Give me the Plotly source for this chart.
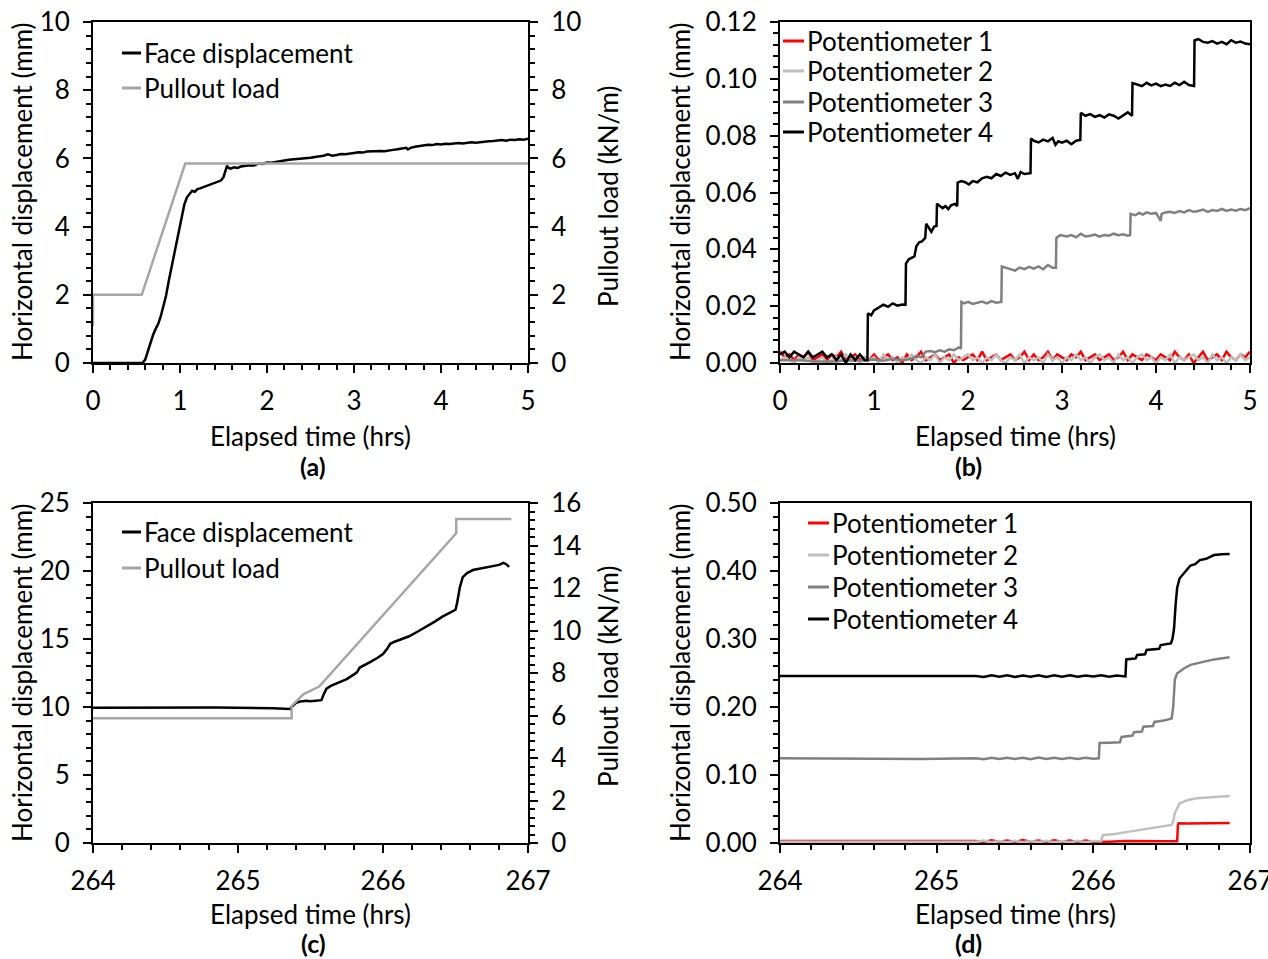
import plotly.graph_objects as go

# ---------------- DATA ----------------
# (a) Face displacement (mm) vs elapsed time (hrs)
ta_face = [0.00, 0.57, 0.60, 0.63, 0.66, 0.69, 0.72, 0.75, 0.78, 0.81, 0.84, 0.87, 0.90, 0.93, 0.96, 0.99,
           1.02, 1.05, 1.08, 1.11, 1.14, 1.17, 1.20, 1.23, 1.26, 1.29, 1.32, 1.35, 1.38, 1.41, 1.44, 1.47,
           1.50, 1.52, 1.54, 1.56, 1.58, 1.62, 1.66, 1.70, 1.75, 1.80, 1.85, 1.90, 1.95, 2.00,
           2.05, 2.10, 2.15, 2.20, 2.25, 2.30, 2.35, 2.40, 2.45, 2.50,
           2.55, 2.60, 2.65, 2.70, 2.75, 2.80, 2.85, 2.90, 2.95, 3.00,
           3.05, 3.10, 3.15, 3.20, 3.25, 3.30, 3.35, 3.40, 3.45, 3.50,
           3.55, 3.60, 3.62, 3.65, 3.70, 3.75, 3.80, 3.85, 3.90, 3.95, 4.00,
           4.05, 4.10, 4.15, 4.20, 4.25, 4.30, 4.35, 4.40, 4.45, 4.50,
           4.55, 4.60, 4.65, 4.70, 4.75, 4.80, 4.85, 4.90, 4.95, 5.00]
va_face = [0.00, 0.00, 0.10, 0.35, 0.58, 0.82, 1.00, 1.15, 1.38, 1.68, 1.98, 2.40, 2.78, 3.15, 3.55, 3.92,
           4.30, 4.65, 4.86, 4.96, 5.05, 5.02, 5.10, 5.12, 5.15, 5.18, 5.20, 5.22, 5.25, 5.28, 5.33, 5.35,
           5.45, 5.62, 5.78, 5.72, 5.70, 5.74, 5.72, 5.76, 5.78, 5.80, 5.79, 5.85, 5.84, 5.88,
           5.87, 5.90, 5.92, 5.94, 5.96, 5.97, 5.98, 6.00, 5.99, 6.02,
           6.04, 6.05, 6.08, 6.12, 6.08, 6.10, 6.13, 6.12, 6.15, 6.16,
           6.18, 6.17, 6.20, 6.21, 6.22, 6.22, 6.21, 6.24, 6.25, 6.27,
           6.28, 6.31, 6.26, 6.31, 6.34, 6.36, 6.38, 6.40, 6.39, 6.42, 6.41,
           6.43, 6.42, 6.44, 6.45, 6.44, 6.46, 6.47, 6.46, 6.48, 6.49,
           6.50, 6.51, 6.52, 6.54, 6.52, 6.55, 6.54, 6.56, 6.55, 6.58]
# (a) Pullout load (kN/m)
ta_load = [0.00, 0.00, 0.56, 1.06, 5.00]
va_load = [1.08, 2.00, 2.00, 5.85, 5.85]

# (b) Potentiometers 1 & 2 (mm), sampled every 0.05 hr
tb_grid = [0.00, 0.05, 0.10, 0.15, 0.20, 0.25, 0.30, 0.35, 0.40, 0.45,
           0.50, 0.55, 0.60, 0.65, 0.70, 0.75, 0.80, 0.85, 0.90, 0.95,
           1.00, 1.05, 1.10, 1.15, 1.20, 1.25, 1.30, 1.35, 1.40, 1.45,
           1.50, 1.55, 1.60, 1.65, 1.70, 1.75, 1.80, 1.85, 1.90, 1.95,
           2.00, 2.05, 2.10, 2.15, 2.20, 2.25, 2.30, 2.35, 2.40, 2.45,
           2.50, 2.55, 2.60, 2.65, 2.70, 2.75, 2.80, 2.85, 2.90, 2.95,
           3.00, 3.05, 3.10, 3.15, 3.20, 3.25, 3.30, 3.35, 3.40, 3.45,
           3.50, 3.55, 3.60, 3.65, 3.70, 3.75, 3.80, 3.85, 3.90, 3.95,
           4.00, 4.05, 4.10, 4.15, 4.20, 4.25, 4.30, 4.35, 4.40, 4.45,
           4.50, 4.55, 4.60, 4.65, 4.70, 4.75, 4.80, 4.85, 4.90, 4.95,
           5.00]
p1_b = [0.004, 0.002, 0.003, 0.001, 0.003, 0.002, 0.004, 0.001, 0.002, 0.003,
        0.001, 0.003, 0.002, 0.004, 0.001, 0.002, 0.003, 0.001, 0.002, 0.001,
        0.003, 0.001, 0.002, 0.003, 0.001, 0.002, 0.000, 0.003, 0.001, 0.002,
        0.004, 0.001, 0.002, 0.003, 0.001, 0.002, 0.003, 0.000, 0.002, 0.001,
        0.002, 0.003, 0.001, 0.004, 0.001, 0.002, 0.003, 0.001, 0.002, 0.003,
        0.001, 0.002, 0.004, 0.001, 0.003, 0.001, 0.002, 0.004, 0.001, 0.003,
        0.002, 0.001, 0.003, 0.002, 0.004, 0.001, 0.002, 0.003, 0.001, 0.002,
        0.003, 0.001, 0.002, 0.004, 0.001, 0.003, 0.002, 0.001, 0.003, 0.002,
        0.001, 0.003, 0.002, 0.001, 0.004, 0.002, 0.001, 0.003, 0.000, 0.002,
        0.004, 0.001, 0.002, 0.003, 0.001, 0.004, 0.002, 0.001, 0.003, 0.002,
        0.004]
p2_b = [0.001, 0.002, 0.001, 0.000, 0.002, 0.001, 0.002, 0.000, 0.001, 0.002,
        0.000, 0.001, 0.002, 0.001, 0.003, 0.001, 0.002, 0.000, 0.002, 0.001,
        0.002, 0.000, 0.003, 0.001, 0.002, 0.000, 0.002, 0.001, 0.003, 0.001,
        0.000, 0.002, 0.001, 0.003, 0.000, 0.002, 0.001, 0.003, 0.001, 0.002,
        0.003, 0.001, 0.002, 0.000, 0.002, 0.001, 0.003, 0.001, 0.000, 0.002,
        0.001, 0.003, 0.000, 0.002, 0.001, 0.002, 0.000, 0.003, 0.001, 0.002,
        0.000, 0.002, 0.001, 0.003, 0.001, 0.002, 0.000, 0.002, 0.003, 0.001,
        0.002, 0.000, 0.003, 0.001, 0.002, 0.000, 0.002, 0.003, 0.001, 0.002,
        0.000, 0.002, 0.001, 0.003, 0.000, 0.002, 0.001, 0.002, 0.003, 0.001,
        0.002, 0.000, 0.003, 0.001, 0.002, 0.000, 0.002, 0.001, 0.003, 0.001,
        0.002]
# (b) Potentiometer 3
t3_b = [0.00, 0.20, 0.40, 0.60, 0.70, 0.80, 0.90, 1.00, 1.10, 1.20, 1.30, 1.40, 1.45, 1.50, 1.55, 1.60,
        1.65, 1.70, 1.75, 1.80, 1.85, 1.90, 1.925,
        1.93, 1.96, 2.00, 2.05, 2.10, 2.15, 2.20, 2.25, 2.30, 2.355,
        2.36, 2.40, 2.45, 2.50, 2.55, 2.60, 2.65, 2.70, 2.75, 2.80, 2.85, 2.90, 2.935,
        2.94, 2.98, 3.05, 3.10, 3.15, 3.20, 3.25, 3.30, 3.35, 3.40, 3.45, 3.50, 3.55, 3.60, 3.65, 3.70, 3.725,
        3.73, 3.78, 3.82, 3.86, 3.90, 3.95, 4.00, 4.05, 4.06, 4.10, 4.15, 4.20, 4.25, 4.30, 4.35, 4.40,
        4.45, 4.50, 4.55, 4.60, 4.65, 4.70, 4.75, 4.80, 4.85, 4.90, 4.95, 5.00]
p3_b = [0.001, 0.001, 0.0005, 0.0005, 0.001, 0.0008, 0.001, 0.0012, 0.0008, 0.0015, 0.001, 0.0015, 0.0025,
        0.002, 0.004, 0.0042, 0.0038, 0.0045, 0.004, 0.0048, 0.0045, 0.0055, 0.005,
        0.0215, 0.0210, 0.0215, 0.0208, 0.0212, 0.0216, 0.0210, 0.0218, 0.0212, 0.0215,
        0.0340, 0.0335, 0.0330, 0.0325, 0.0336, 0.0330, 0.0338, 0.0332, 0.0340, 0.0330, 0.0345, 0.0335, 0.0335,
        0.0440, 0.0450, 0.0445, 0.0450, 0.0442, 0.0455, 0.0445, 0.0448, 0.0452, 0.0445, 0.0450, 0.0448, 0.0455,
        0.0450, 0.0453, 0.0448, 0.0450,
        0.0525, 0.0520, 0.0528, 0.0522, 0.0530, 0.0525, 0.0528, 0.0500, 0.0525, 0.0530, 0.0532, 0.0528, 0.0535,
        0.0530, 0.0538, 0.0532, 0.0535, 0.0540, 0.0532, 0.0538, 0.0535, 0.0542, 0.0535, 0.0540, 0.0536, 0.0542,
        0.0538, 0.0545]
# (b) Potentiometer 4
t4_b = [0.00, 0.05, 0.10, 0.15, 0.20, 0.25, 0.30, 0.35, 0.40, 0.45, 0.50, 0.55, 0.60, 0.65, 0.70, 0.75,
        0.80, 0.85, 0.90, 0.93,
        0.935, 0.97, 1.00, 1.05, 1.10, 1.15, 1.20, 1.25, 1.30, 1.335,
        1.34, 1.37, 1.40, 1.43, 1.45, 1.48, 1.51, 1.545, 1.555, 1.58, 1.61, 1.64, 1.665, 1.67, 1.70, 1.73,
        1.76, 1.79, 1.82, 1.86, 1.885,
        1.89, 1.93, 1.97, 2.01, 2.05, 2.10, 2.15, 2.20, 2.25, 2.30, 2.35, 2.40, 2.45, 2.50, 2.53, 2.56, 2.60, 2.665,
        2.67, 2.70, 2.75, 2.80, 2.85, 2.90, 2.93, 2.96, 3.00, 3.05, 3.10, 3.15, 3.195,
        3.20, 3.25, 3.30, 3.35, 3.40, 3.45, 3.50, 3.55, 3.60, 3.65, 3.70, 3.745,
        3.75, 3.80, 3.85, 3.90, 3.95, 4.00, 4.05, 4.10, 4.15, 4.20, 4.25, 4.30, 4.35, 4.405,
        4.41, 4.45, 4.50, 4.55, 4.60, 4.65, 4.70, 4.75, 4.80, 4.85, 4.90, 4.95, 5.00]
p4_b = [0.003, 0.004, 0.002, 0.004, 0.003, 0.002, 0.004, 0.002, 0.003, 0.004, 0.002, 0.003, 0.001, 0.003,
        0.000, 0.003, 0.001, 0.003, 0.001, 0.001,
        0.0175, 0.0168, 0.0185, 0.0195, 0.0205, 0.0198, 0.0210, 0.0202, 0.0206, 0.0205,
        0.0350, 0.0365, 0.0370, 0.0375, 0.0410, 0.0425, 0.0428, 0.0440, 0.0490, 0.0475, 0.0462, 0.0480, 0.0482,
        0.0560, 0.0552, 0.0545, 0.0552, 0.0542, 0.0555, 0.0560, 0.0552,
        0.0635, 0.0640, 0.0636, 0.0628, 0.0640, 0.0636, 0.0650, 0.0655, 0.0650, 0.0665, 0.0658, 0.0670, 0.0662,
        0.0668, 0.0648, 0.0672, 0.0665, 0.0668,
        0.0790, 0.0782, 0.0776, 0.0786, 0.0780, 0.0792, 0.0768, 0.0780, 0.0775, 0.0782, 0.0770, 0.0782, 0.0785,
        0.0880, 0.0870, 0.0876, 0.0866, 0.0872, 0.0864, 0.0875, 0.0870, 0.0860, 0.0870, 0.0882, 0.0870,
        0.0985, 0.0980, 0.0974, 0.0986, 0.0977, 0.0983, 0.0974, 0.0980, 0.0975, 0.0986, 0.0978, 0.0990, 0.0978,
        0.0975,
        0.1135, 0.1140, 0.1130, 0.1127, 0.1133, 0.1124, 0.1130, 0.1122, 0.1136, 0.1127, 0.1131, 0.1124, 0.1122]

# (c) Face displacement (mm) and pullout load (kN/m)
tc_face = [264.00, 264.50, 264.85, 265.24, 265.30, 265.36, 265.37, 265.40, 265.43, 265.47, 265.50, 265.55,
           265.575, 265.59, 265.61, 265.64, 265.66, 265.70, 265.75, 265.80, 265.82, 265.84, 265.88, 265.92,
           265.96, 266.00, 266.03, 266.05, 266.08, 266.12, 266.18, 266.24, 266.30, 266.36, 266.41, 266.46,
           266.50, 266.51, 266.52, 266.53, 266.55, 266.58, 266.62, 266.66, 266.70, 266.76, 266.80, 266.83,
           266.85, 266.87]
vc_face = [9.95, 9.96, 9.97, 9.90, 9.85, 9.85, 10.00, 10.30, 10.40, 10.45, 10.42, 10.50,
           10.50, 10.90, 11.35, 11.55, 11.65, 11.85, 12.05, 12.40, 12.55, 12.90, 13.10, 13.35,
           13.60, 13.90, 14.30, 14.65, 14.80, 14.95, 15.20, 15.55, 15.90, 16.30, 16.64, 16.95,
           17.15, 17.60, 18.30, 18.80, 19.55, 19.85, 20.07, 20.15, 20.20, 20.32, 20.45, 20.60,
           20.50, 20.30]
tc_load = [264.00, 265.37, 265.37, 265.45, 265.56, 266.505, 266.505, 266.885]
vc_load = [5.87, 5.87, 6.45, 7.00, 7.36, 14.57, 15.25, 15.25]

# (d) Potentiometers 1-4 (mm)
t1_d = [264.00, 265.25, 265.30, 265.35, 265.40, 265.45, 265.50, 265.55, 265.60, 265.65, 265.70, 265.75,
        265.80, 265.85, 265.90, 265.95, 266.00, 266.05, 266.10, 266.20, 266.30, 266.40, 266.50, 266.535,
        266.54, 266.545, 266.60, 266.70, 266.80, 266.87]
p1_d = [0.0030, 0.0030, 0.0015, 0.0040, 0.0020, 0.0035, 0.0015, 0.0042, 0.0018, 0.0036, 0.0015, 0.0040,
        0.0020, 0.0038, 0.0016, 0.0035, 0.0020, 0.0025, 0.0020, 0.0028, 0.0022, 0.0027, 0.0024, 0.0025,
        0.0270, 0.0290, 0.0285, 0.0292, 0.0290, 0.0295]
t2_d = [264.00, 264.80, 265.25, 265.30, 265.35, 265.40, 265.45, 265.50, 265.55, 265.60, 265.65, 265.70,
        265.75, 265.80, 265.85, 265.90, 265.95, 266.00, 266.05, 266.06, 266.15, 266.23, 266.30, 266.40,
        266.50, 266.51, 266.52, 266.55, 266.60, 266.66, 266.75, 266.87]
p2_d = [0.0020, 0.0015, 0.0020, 0.0035, 0.0010, 0.0030, 0.0012, 0.0032, 0.0010, 0.0030, 0.0014, 0.0033,
        0.0011, 0.0030, 0.0012, 0.0034, 0.0010, 0.0031, 0.0025, 0.0115, 0.0135, 0.0167, 0.0190, 0.0225,
        0.0265, 0.0320, 0.0437, 0.0583, 0.0630, 0.0657, 0.0675, 0.0690]
t3_d = [264.00, 264.50, 264.90, 265.25, 265.30, 265.35, 265.40, 265.45, 265.50, 265.55, 265.60, 265.65,
        265.70, 265.75, 265.80, 265.85, 265.90, 265.95, 266.00, 266.035, 266.04, 266.10, 266.17, 266.18,
        266.25, 266.26, 266.31, 266.32, 266.38, 266.39, 266.45, 266.50, 266.51, 266.52, 266.535, 266.55,
        266.58, 266.62, 266.68, 266.77, 266.87]
p3_d = [0.1245, 0.1238, 0.1235, 0.1245, 0.1232, 0.1255, 0.1234, 0.1254, 0.1236, 0.1252, 0.1233, 0.1256,
        0.1235, 0.1253, 0.1234, 0.1255, 0.1236, 0.1252, 0.1240, 0.1245, 0.1470, 0.1475, 0.1480, 0.1560,
        0.1580, 0.1630, 0.1640, 0.1710, 0.1720, 0.1780, 0.1800, 0.1830, 0.2000, 0.2400, 0.2495, 0.2520,
        0.2570, 0.2620, 0.2650, 0.2700, 0.2730]
t4_d = [264.00, 264.60, 265.25, 265.30, 265.35, 265.40, 265.45, 265.50, 265.55, 265.60, 265.65, 265.70,
        265.75, 265.80, 265.85, 265.90, 265.95, 266.00, 266.05, 266.10, 266.15, 266.205, 266.21, 266.25,
        266.27, 266.28, 266.33, 266.34, 266.38, 266.42, 266.43, 266.47, 266.495, 266.505, 266.515, 266.525,
        266.535, 266.55, 266.585, 266.62, 266.65, 266.68, 266.72, 266.77, 266.82, 266.87]
p4_d = [0.2455, 0.2457, 0.2455, 0.2440, 0.2468, 0.2444, 0.2466, 0.2442, 0.2464, 0.2446, 0.2467, 0.2443,
        0.2465, 0.2445, 0.2468, 0.2444, 0.2463, 0.2447, 0.2466, 0.2445, 0.2462, 0.2450, 0.2700, 0.2710,
        0.2715, 0.2765, 0.2775, 0.2840, 0.2850, 0.2855, 0.2910, 0.2920, 0.2935, 0.3000, 0.3150, 0.3500,
        0.3750, 0.3890, 0.3990, 0.4080, 0.4100, 0.4160, 0.4180, 0.4235, 0.4245, 0.4250]

for a, b in [(ta_face, va_face), (ta_load, va_load), (tb_grid, p1_b), (tb_grid, p2_b), (t3_b, p3_b),
             (t4_b, p4_b), (tc_face, vc_face), (tc_load, vc_load), (t1_d, p1_d), (t2_d, p2_d),
             (t3_d, p3_d), (t4_d, p4_d)]:
    assert len(a) == len(b), (len(a), len(b))

# ---------------- STYLE ----------------
W, H = 1268, 959
FONT = "Lato"
FS = 26
BLACK = "#000000"
LOADGRAY = "#A6A6A6"
RED = "#FF0000"
LIGHT = "#BFBFBF"
MID = "#808080"
LW = 2.5


def px(x):
    return x / W


def py(y):
    return 1 - y / H


# plot areas in pixels (left, right, top, bottom)
A = (93, 528, 22, 363)
B = (780, 1250, 22, 363)
C = (93, 528, 503, 843)
D = (780, 1250, 503, 843)


def xdom(r):
    return [px(r[0]), px(r[1])]


def ydom(r):
    return [py(r[3]), py(r[2])]


fig = go.Figure()


def line(x, y, color, xa, ya, name):
    fig.add_trace(go.Scatter(x=x, y=y, mode="lines", name=name, xaxis=xa, yaxis=ya,
                             line=dict(color=color, width=LW), showlegend=False))


# (a)
line(ta_load, va_load, LOADGRAY, "x", "y2", "Pullout load")
line(ta_face, va_face, BLACK, "x", "y", "Face displacement")
# (b)
line(tb_grid, p1_b, RED, "x2", "y3", "Potentiometer 1")
line(tb_grid, p2_b, LIGHT, "x2", "y3", "Potentiometer 2")
line(t3_b, p3_b, MID, "x2", "y3", "Potentiometer 3")
line(t4_b, p4_b, BLACK, "x2", "y3", "Potentiometer 4")
# (c)
line(tc_load, vc_load, LOADGRAY, "x3", "y5", "Pullout load")
line(tc_face, vc_face, BLACK, "x3", "y4", "Face displacement")
# (d)
line(t1_d, p1_d, RED, "x4", "y6", "Potentiometer 1")
line(t2_d, p2_d, LIGHT, "x4", "y6", "Potentiometer 2")
line(t3_d, p3_d, MID, "x4", "y6", "Potentiometer 3")
line(t4_d, p4_d, BLACK, "x4", "y6", "Potentiometer 4")

tickfont = dict(family=FONT, size=FS, color=BLACK)


def xaxis(dom, anchor, rng, dtick, minor):
    return dict(domain=dom, anchor=anchor, range=rng, dtick=dtick, tick0=rng[0], automargin=False,
                showgrid=False, zeroline=False, showline=True, linecolor=BLACK, linewidth=2,
                mirror=True, ticks="outside", ticklen=8, tickwidth=1.5, tickcolor=BLACK,
                minor=dict(dtick=minor, ticks="outside", ticklen=5, tickwidth=1.5, tickcolor=BLACK,
                           showgrid=False),
                tickfont=tickfont, ticklabelstandoff=6, ticklabeloverflow="allow", fixedrange=True)


def yaxis(dom, anchor, rng, dtick, minor, fmt=None, side="left", overlay=None):
    d = dict(anchor=anchor, range=rng, dtick=dtick, tick0=0, side=side, automargin=False,
             showgrid=False, zeroline=False, showline=True, linecolor=BLACK, linewidth=2,
             ticks="outside", ticklen=8, tickwidth=1.5, tickcolor=BLACK,
             minor=dict(dtick=minor, ticks="outside", ticklen=5, tickwidth=1.5, tickcolor=BLACK,
                        showgrid=False),
             tickfont=tickfont, ticklabelstandoff=8, fixedrange=True)
    if overlay:
        d["overlaying"] = overlay
    else:
        d["domain"] = dom
        d["mirror"] = True
    if fmt:
        d["tickformat"] = fmt
    return d


fig.update_layout(
    width=W, height=H,
    margin=dict(l=0, r=0, t=0, b=0, autoexpand=False),
    paper_bgcolor="white", plot_bgcolor="white",
    font=dict(family=FONT, size=FS, color=BLACK),
    showlegend=False,
    xaxis=xaxis(xdom(A), "y", [0, 5], 1, 0.2),
    yaxis=yaxis(ydom(A), "x", [0, 10], 2, 0.4),
    yaxis2=yaxis(None, "x", [0, 10], 2, 0.4, side="right", overlay="y"),
    xaxis2=xaxis(xdom(B), "y3", [0, 5], 1, 0.2),
    yaxis3=yaxis(ydom(B), "x2", [0, 0.12], 0.02, 0.004, fmt=".2f"),
    xaxis3=xaxis(xdom(C), "y4", [264, 267], 1, 0.2),
    yaxis4=yaxis(ydom(C), "x3", [0, 25], 5, 1),
    yaxis5=yaxis(None, "x3", [0, 16], 2, 0.4, side="right", overlay="y4"),
    xaxis4=xaxis(xdom(D), "y6", [264, 267], 1, 0.2),
    yaxis6=yaxis(ydom(D), "x4", [0, 0.5], 0.1, 0.02, fmt=".2f"),
)

ann = []
shapes = []


def text(x, y, s, angle=0, bold=False, xanchor="center", size=FS):
    ann.append(dict(x=px(x), y=py(y), xref="paper", yref="paper", text=("<b>%s</b>" % s if bold else s),
                    showarrow=False, textangle=angle, xanchor=xanchor, yanchor="middle",
                    font=dict(family=FONT, size=size, color=BLACK)))


# axis titles
for cx, cy in [(310, 436), (1015, 436), (310, 914), (1015, 914)]:
    text(cx, cy, "Elapsed time (hrs)")
for cx, cy in [(22, 192), (680, 192), (22, 673), (680, 673)]:
    text(cx, cy, "Horizontal displacement (mm)", angle=-90)
for cx, cy in [(608, 197), (608, 677)]:
    text(cx, cy, "Pullout load (kN/m)", angle=-90)
# panel labels
for cx, cy, s in [(313, 466, "(a)"), (968, 466, "(b)"), (313, 943, "(c)"), (968, 943, "(d)")]:
    text(cx, cy, s, bold=True, size=25)


# legends
def legend_entry(x0, x1, y, color, label):
    shapes.append(dict(type="line", xref="paper", yref="paper", x0=px(x0), x1=px(x1), y0=py(y), y1=py(y),
                       line=dict(color=color, width=3)))
    text(x1 + 1, y, label, xanchor="left")


legend_entry(122, 141, 53, BLACK, "Face displacement")
legend_entry(122, 141, 88, LOADGRAY, "Pullout load")
legend_entry(783, 804, 41, RED, "Potentiometer 1")
legend_entry(783, 804, 71, LIGHT, "Potentiometer 2")
legend_entry(783, 804, 102, MID, "Potentiometer 3")
legend_entry(783, 804, 132, BLACK, "Potentiometer 4")
legend_entry(122, 141, 532, BLACK, "Face displacement")
legend_entry(122, 141, 568, LOADGRAY, "Pullout load")
legend_entry(808, 829, 523, RED, "Potentiometer 1")
legend_entry(808, 829, 555, LIGHT, "Potentiometer 2")
legend_entry(808, 829, 587, MID, "Potentiometer 3")
legend_entry(808, 829, 619, BLACK, "Potentiometer 4")

fig.update_layout(annotations=ann, shapes=shapes)
fig.write_html("out.html")
